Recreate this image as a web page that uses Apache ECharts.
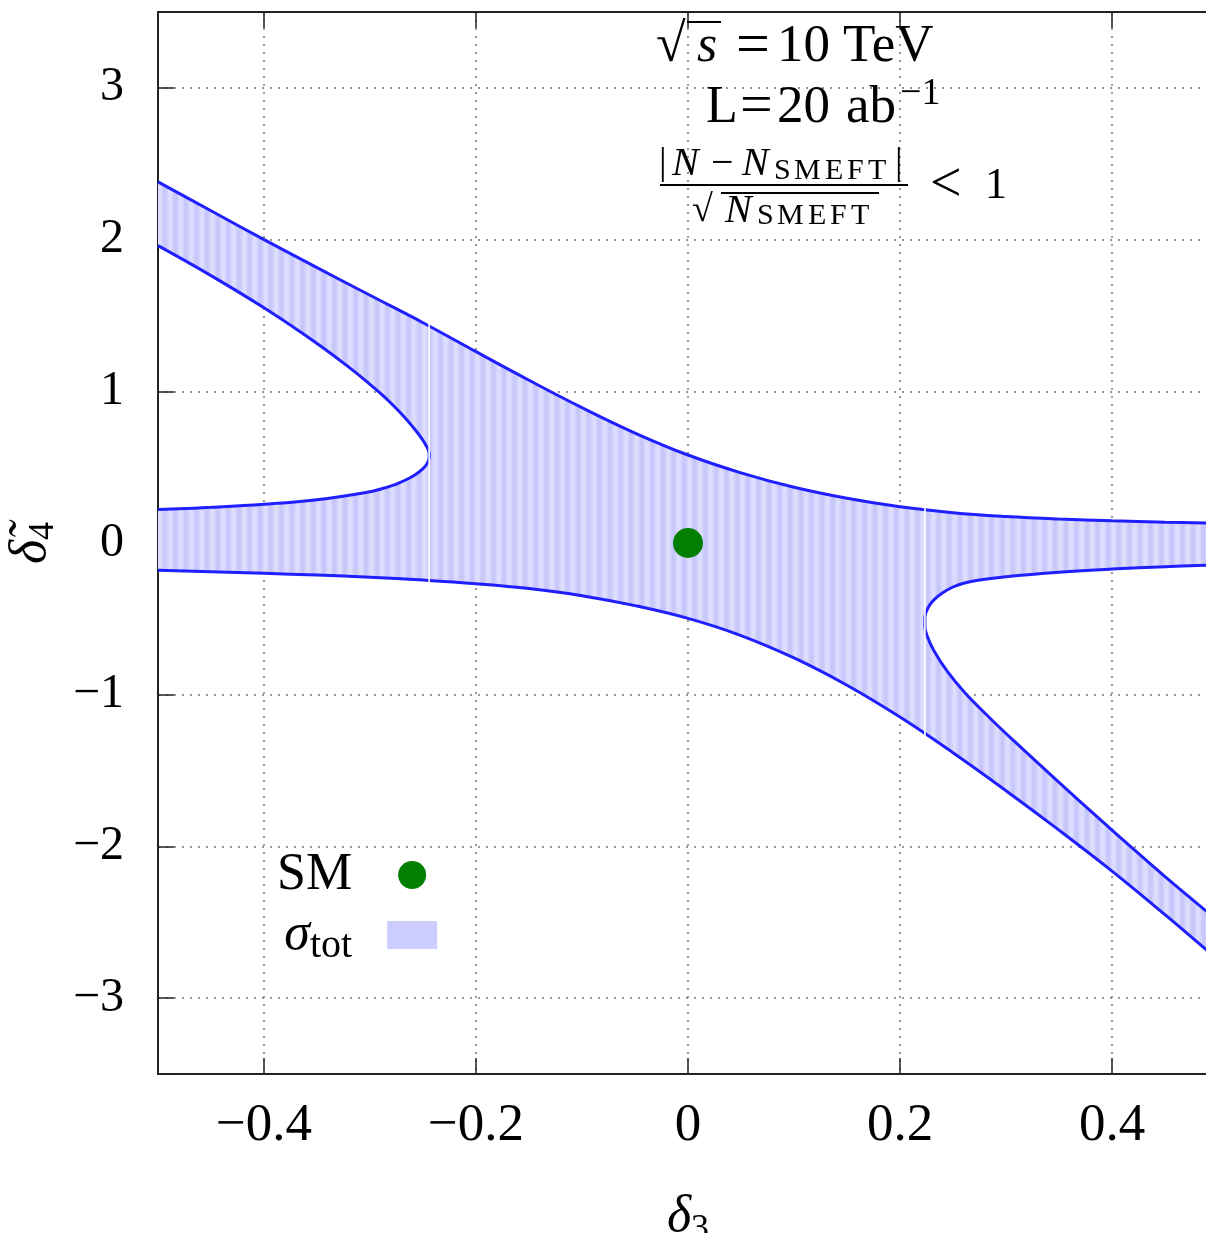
<!DOCTYPE html>
<html><head><meta charset="utf-8">
<script src="https://cdn.jsdelivr.net/npm/echarts@6/dist/echarts.min.js"></script>
<style>html,body{margin:0;padding:0;background:#fff}#c{width:1206px;height:1233px}</style>
</head><body><div id="c"></div>
<script>
// ---- data ----
const xTickValues = [-0.4, -0.2, 0, 0.2, 0.4];
const yTickValues = [-3, -2, -1, 0, 1, 2, 3];

// upper boundary of the allowed band (delta3, delta4tilde)
const topCurve = [[-0.5,2.38],[-0.45,2.19],[-0.4,2.0],[-0.35,1.815],[-0.3,1.633],[-0.25,1.452],[-0.2,1.261],[-0.15,1.073],[-0.1,0.892],[-0.05,0.725],[0,0.58],[0.05,0.4625],[0.1,0.3675],[0.15,0.295],[0.2,0.239],[0.25,0.2],[0.3,0.175],[0.35,0.158],[0.4,0.146],[0.45,0.1375],[0.5,0.131]];
// lower boundary
const lowerCurve = [[-0.5,-0.18],[-0.45,-0.19],[-0.4,-0.2],[-0.35,-0.211],[-0.3,-0.225],[-0.25,-0.244],[-0.2,-0.268],[-0.15,-0.3],[-0.1,-0.347],[-0.05,-0.413],[0,-0.497],[0.05,-0.61],[0.1,-0.7575],[0.15,-0.9375],[0.2,-1.1475],[0.25,-1.3825],[0.3,-1.6325],[0.35,-1.8925],[0.4,-2.1625],[0.45,-2.45],[0.5,-2.748]];
// left excluded branch (upper arm -> tip -> lower arm)
const leftBranch = [[-0.5,1.96],[-0.45,1.7625],[-0.4,1.55],[-0.35,1.315],[-0.317,1.143],[-0.3,1.046],[-0.289,0.979],[-0.278,0.906],[-0.267,0.826],[-0.257,0.743],[-0.25,0.676],[-0.246,0.628],[-0.2442,0.59],[-0.2442,0.565],[-0.246,0.525],[-0.25,0.49],[-0.257,0.452],[-0.265,0.42],[-0.273,0.395],[-0.28,0.377],[-0.289,0.358],[-0.3,0.338],[-0.35,0.285],[-0.4,0.255],[-0.45,0.235],[-0.5,0.22]];
// right excluded branch (upper arm -> tip -> lower arm)
const rightBranch = [[0.5,-0.143],[0.45,-0.156],[0.4,-0.172],[0.35,-0.193],[0.3,-0.222],[0.275,-0.244],[0.26,-0.265],[0.25,-0.29],[0.24,-0.33],[0.232,-0.375],[0.227,-0.42],[0.2235,-0.49],[0.2235,-0.55],[0.226,-0.62],[0.232,-0.71],[0.245,-0.85],[0.261,-0.985],[0.285,-1.155],[0.308,-1.308],[0.35,-1.578],[0.39,-1.83],[0.419,-2.01],[0.45,-2.199],[0.5,-2.49]];
// white seams in the fill: [x, yTop, yBottom]
const seams = [[-0.2442, 1.43, -0.242], [0.2235, 0.216, -1.256]];
// SM point
const smPoint = [[0, 0]];

// ---- styling helpers ----
const SERIF = 'Liberation Serif';
const MINUS = '\u2212';
const SMOOTH = 0.4;
function fmtTick(list) {
  return function (v) {
    for (const t of list) if (Math.abs(v - t) < 1e-9) return String(t).replace('-', MINUS);
    return '';
  };
}
// vertical-stripe pattern imitating the reference fill
const pc = document.createElement('canvas');
pc.width = 53; pc.height = 4;
const pctx = pc.getContext('2d');
for (let i = 0; i < 53; i++) {
  const k = 0.5 + 0.5 * Math.cos(2 * Math.PI * i / 10.6);
  const r = Math.round(198 + 24 * k), b = Math.round(250 + 5 * k);
  pctx.fillStyle = 'rgb(' + r + ',' + r + ',' + b + ')';
  pctx.fillRect(i, 0, 1, 4);
}
const stripePattern = { image: pc, repeat: 'repeat' };

// polygon of the filled region, built from the boundary arrays
const fillPolygon = [].concat(topCurve, rightBranch, lowerCurve.slice().reverse(), leftBranch.slice().reverse());

const chart = echarts.init(document.getElementById('c'), null, { renderer: 'canvas' });

const lineStyleBlue = { color: '#1f1fff', width: 3 };
function boundary(data) {
  return { type: 'line', data: data, showSymbol: false, silent: true, z: 3, smooth: SMOOTH,
           lineStyle: lineStyleBlue, emphasis: { disabled: true }, animation: false };
}
function t(f, extra) { return Object.assign({ fontFamily: SERIF, fontSize: f, fill: '#000', align: 'left' }, extra || {}); }
function sub(w, pad) { return t(30, w ? { width: w, padding: [pad, 0, 0, 0] } : { padding: [pad, 0, 0, 0] }); }

const option = {
  animation: false,
  backgroundColor: '#fff',
  grid: { left: 158, top: 12, right: -12, bottom: 159, outerBoundsMode: 'none', containLabel: false },
  xAxis: [{
    type: 'value', min: -0.5, max: 0.5, splitNumber: 5, position: 'bottom',
    axisLine: { show: true, onZero: false, lineStyle: { color: '#222', width: 2 } },
    axisTick: { show: true, inside: true, length: 16, lineStyle: { color: '#222', width: 1.5 } },
    axisLabel: { formatter: fmtTick(xTickValues), fontFamily: SERIF, fontSize: 53, color: '#000', margin: 26 },
    splitLine: { show: true, lineStyle: { color: '#777', type: [2, 6], width: 1.5 } },
    name: '{d|δ}{s|3}', nameLocation: 'middle', nameGap: 112,
    nameTextStyle: { fontFamily: SERIF, fontSize: 52, color: '#000',
      rich: { d: { fontFamily: SERIF, fontSize: 52, fontStyle: 'italic', color: '#000' },
              s: { fontFamily: SERIF, fontSize: 36, color: '#000', padding: [26, 0, 0, 0] } } }
  }, {
    type: 'value', min: -0.5, max: 0.5, splitNumber: 5, position: 'top',
    axisLine: { show: true, onZero: false, lineStyle: { color: '#222', width: 2 } },
    axisTick: { show: true, inside: true, length: 16, lineStyle: { color: '#222', width: 1.5 } },
    axisLabel: { show: false }, splitLine: { show: false }
  }],
  yAxis: {
    type: 'value', min: -3.5, max: 3.5, splitNumber: 7,
    axisLine: { show: true, onZero: false, lineStyle: { color: '#222', width: 2 } },
    axisTick: { show: true, inside: true, length: 16, lineStyle: { color: '#222', width: 1.5 } },
    axisLabel: { formatter: fmtTick(yTickValues), fontFamily: SERIF, fontSize: 48, color: '#000', margin: 34 },
    splitLine: { show: true, lineStyle: { color: '#777', type: [2, 6], width: 1.5 } },
    name: '{d|δ\u0303}{s|4}', nameLocation: 'middle', nameRotate: 90, nameGap: 74,
    nameTextStyle: { fontFamily: SERIF, fontSize: 52, color: '#000',
      rich: { d: { fontFamily: SERIF, fontSize: 52, fontStyle: 'italic', color: '#000' },
              s: { fontFamily: SERIF, fontSize: 36, color: '#000', padding: [26, 0, 0, 0] } } }
  },
  legend: {
    orient: 'vertical', left: 272, top: 844, align: 'right', itemWidth: 50, itemHeight: 28, itemGap: 8,
    selectedMode: false,
    data: [{ name: 'SM', icon: 'circle' }, { name: 'σtot', icon: 'rect' }],
    formatter: function (n) { return n === 'SM' ? '{t|SM}{g| }' : '{i|σ}{s|tot}{g| }'; },
    textStyle: { fontFamily: SERIF, fontSize: 52, color: '#000',
      rich: { t: { fontFamily: SERIF, fontSize: 52, color: '#000' },
              i: { fontFamily: SERIF, fontSize: 52, fontStyle: 'italic', color: '#000', width: 38 },
              s: { fontFamily: SERIF, fontSize: 40, color: '#000', padding: [22, 0, 0, 0] },
              g: { fontFamily: SERIF, fontSize: 20, width: 30 } } }
  },
  series: [
    { type: 'custom', name: 'σtot', coordinateSystem: 'cartesian2d', data: [[0, 0]], z: 1, silent: true, clip: true,
      itemStyle: { color: '#ccccff' },
      renderItem: function (params, api) {
        const pts = fillPolygon.map(function (p) { return api.coord(p); });
        return { type: 'polygon', shape: { points: pts }, style: { fill: stripePattern } };
      } },
    boundary(topCurve), boundary(lowerCurve), boundary(leftBranch), boundary(rightBranch),
    { type: 'custom', coordinateSystem: 'cartesian2d', data: seams, z: 4, silent: true,
      renderItem: function (params, api) {
        const a = api.coord([api.value(0), api.value(1)]);
        const b = api.coord([api.value(0), api.value(2)]);
        return { type: 'line', shape: { x1: a[0], y1: a[1] - 3, x2: b[0], y2: b[1] + 3 },
                 style: { stroke: '#fff', lineWidth: 1.6 } };
      } },
    { type: 'scatter', name: 'SM', data: smPoint, symbolSize: 30, z: 5, silent: true,
      itemStyle: { color: '#007f00', opacity: 1 } }
  ],
  graphic: [
    // sqrt(s) = 10 TeV
    { type: 'text', x: 656, y: 47, z: 10, style: { text: '{r|√}{i|s}{m|=}{m2|10}{m3|TeV}', verticalAlign: 'middle', align: 'left',
        rich: { r: t(54, { width: 41 }), i: t(52, { fontStyle: 'italic', width: 39 }), m: t(60, { width: 41 }),
                m2: t(53, { width: 66 }), m3: t(53) } } },
    { type: 'line', z: 10, shape: { x1: 687, y1: 22, x2: 721, y2: 22 }, style: { stroke: '#000', lineWidth: 2.2 } },
    // L = 20 ab^-1
    { type: 'text', x: 706, y: 108, z: 10, style: { text: '{a|L}{b|=}{c|20}{d|ab}{p|\u22121}', verticalAlign: 'middle', align: 'left',
        rich: { a: t(52, { width: 34 }), b: t(58, { width: 37 }), c: t(53, { width: 69 }), d: t(53, { width: 54 }),
                p: t(38, { padding: [0, 0, 28, 0] }) } } },
    // numerator
    { type: 'text', x: 659, y: 164, z: 10, style: {
        text: '{b|\u007c}{i|N}{o|\u2212}{i2|N}{s1|S}{s2|M}{s3|E}{s4|F}{s5|T}{m|\u007c}', verticalAlign: 'middle', align: 'left',
        rich: { b: t(38, { width: 13 }), m: t(38), i: t(40, { fontStyle: 'italic', width: 39 }), o: t(40, { width: 31 }),
                i2: t(40, { fontStyle: 'italic', width: 32 }),
                s1: sub(20, 14), s2: sub(31, 14), s3: sub(22, 14), s4: sub(21, 14), s5: sub(27, 14) } } },
    { type: 'line', z: 10, shape: { x1: 660, y1: 185, x2: 908, y2: 185 }, style: { stroke: '#000', lineWidth: 2 } },
    // denominator
    { type: 'text', x: 692, y: 211, z: 10, style: {
        text: '{r|√}{i|N}{s1|S}{s2|M}{s3|E}{s4|F}{s5|T}', verticalAlign: 'middle', align: 'left',
        rich: { r: t(38, { width: 33 }), i: t(40, { fontStyle: 'italic', width: 32 }),
                s1: sub(20, 11), s2: sub(31, 11), s3: sub(22, 11), s4: sub(21, 11), s5: sub(0, 11) } } },
    { type: 'line', z: 10, shape: { x1: 721, y1: 193, x2: 879, y2: 193 }, style: { stroke: '#000', lineWidth: 2 } },
    // < 1
    { type: 'text', x: 930, y: 186, z: 10, style: { text: '{a|<}{b|1}', verticalAlign: 'middle', align: 'left',
        rich: { a: t(56, { width: 55 }), b: t(44) } } }
  ]
};
chart.setOption(option);
</script>
</body></html>
